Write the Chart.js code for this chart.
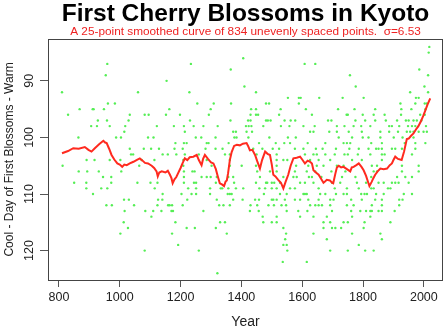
<!DOCTYPE html>
<html>
<head>
<meta charset="utf-8">
<script src="https://cdn.jsdelivr.net/npm/chart.js@4"></script>
<style>
  body { margin: 0; background: #fff; }
</style>
</head>
<body>
<canvas id="c" width="447" height="331"></canvas>
<script>
// observations, grouped by day of first blossom
const rowDays = [84, 85, 86, 87, 88, 89, 90, 91, 92, 93, 94, 95, 96, 97, 98, 99, 100, 101, 102, 103, 104, 105, 106, 107, 108, 109, 110, 111, 112, 113, 114, 115, 116, 117, 118, 119, 120, 122, 124];
const rowYears = [
  [2018],
  [2016],
  [1406],
  [959, 1234, 1608, 1643],
  [1365, 1985],
  [954, 1757, 2014],
  [1154],
  [1410, 1776, 2002],
  [810, 1060, 1229, 1448, 1955, 2014],
  [1553, 1589, 1595, 1656, 1733, 1802, 1974, 1983],
  [961, 984, 1255, 1309, 1366, 1481, 1491, 1589, 1923, 1972, 2003, 2010],
  [868, 911, 914, 948, 1163, 1299, 1432, 1448, 1529, 1612, 1718, 1772, 1840, 1926, 1959, 2005],
  [830, 1033, 1082, 1095, 1152, 1198, 1293, 1430, 1448, 1455, 1524, 1632, 1746, 1750, 1799, 1835, 1871, 1925, 1988, 2003],
  [928, 958, 1029, 1231, 1364, 1422, 1430, 1481, 1487, 1496, 1542, 1562, 1577, 1685, 1696, 1775, 1807, 1840, 1875, 1912, 1941, 1950, 1966, 1977, 1992],
  [906, 925, 967, 1018, 1122, 1178, 1211, 1243, 1275, 1322, 1415, 1424, 1433, 1472, 1530, 1558, 1604, 1641, 1714, 1739, 1769, 1794, 1824, 1886, 1895, 1919, 1948, 1961, 1972, 2007],
  [1015, 1214, 1373, 1382, 1417, 1435, 1626, 1637, 1689, 1714, 1753, 1796, 1857, 1886, 1915, 1944, 1955, 1966, 1983, 1999, 2010],
  [864, 988, 1004, 1093, 1111, 1250, 1268, 1315, 1377, 1384, 1423, 1492, 1553, 1579, 1720, 1764, 1799, 1818, 1857, 1901, 1930, 1966],
  [1183, 1211, 1220, 1286, 1292, 1358, 1458, 1513, 1541, 1560, 1618, 1676, 1736, 1747, 1758, 1827, 1862, 1937, 1972, 2005],
  [1033, 1079, 1103, 1129, 1180, 1207, 1282, 1315, 1338, 1439, 1469, 1503, 1524, 1576, 1604, 1645, 1667, 1711, 1755, 1786, 1818, 1843, 1851, 1862, 1895, 1906, 1928, 1972],
  [1037, 1044, 1141, 1158, 1186, 1214, 1260, 1346, 1362, 1450, 1516, 1609, 1637, 1648, 1676, 1707, 1739, 1750, 1783, 1824, 1862, 1871, 1961],
  [891, 917, 967, 1002, 1072, 1114, 1209, 1286, 1362, 1516, 1538, 1551, 1626, 1654, 1692, 1764, 1796, 1862],
  [812, 1064, 1209, 1302, 1362, 1401, 1448, 1516, 1580, 1620, 1648, 1670, 1714, 1736, 1829, 1846, 1928, 1983],
  [865, 893, 931, 1005, 1211, 1239, 1246, 1452, 1494, 1516, 1576, 1615, 1643, 1696, 1742, 1835, 1846, 1928, 1983],
  [945, 972, 1211, 1269, 1286, 1299, 1319, 1357, 1373, 1461, 1538, 1571, 1582, 1622, 1632, 1663, 1731, 1775, 1827, 1912, 1939, 1961],
  [850, 890, 972, 1058, 1101, 1124, 1211, 1244, 1251, 1316, 1376, 1448, 1481, 1485, 1500, 1508, 1527, 1593, 1609, 1637, 1698, 1725, 1780, 1810, 1851, 1868, 1895, 1906, 1917, 1950],
  [890, 939, 959, 1115, 1225, 1251, 1297, 1332, 1337, 1357, 1382, 1406, 1459, 1478, 1500, 1516, 1560, 1576, 1654, 1707, 1747, 1786, 1827, 1835, 1882, 1890],
  [912, 1141, 1203, 1236, 1251, 1297, 1355, 1362, 1368, 1474, 1527, 1549, 1604, 1609, 1615, 1659, 1676, 1711, 1736, 1747, 1794, 1805, 1813, 1843, 1868, 1934, 1961],
  [1014, 1030, 1126, 1140, 1222, 1319, 1373, 1404, 1445, 1458, 1500, 1505, 1516, 1543, 1576, 1593, 1620, 1654, 1692, 1703, 1761, 1796, 1840, 1862, 1919, 1930],
  [956, 974, 1047, 1124, 1159, 1164, 1172, 1207, 1327, 1341, 1362, 1430, 1452, 1489, 1507, 1532, 1547, 1626, 1643, 1654, 1665, 1692, 1747, 1769, 1829, 1862, 1919],
  [1016, 1084, 1110, 1137, 1170, 1175, 1275, 1428, 1457, 1549, 1587, 1617, 1698, 1761, 1791, 1810, 1824, 1829, 1851, 1862, 1904],
  [1104, 1470, 1516, 1593, 1637, 1681, 1764, 1824],
  [1013, 1183, 1330, 1346, 1472, 1500, 1516, 1670, 1692, 1736, 1750, 1805, 1890],
  [1027, 1220, 1247, 1316, 1538, 1670, 1698, 1709, 1728, 1802],
  [1002, 1172, 1352, 1547, 1637, 1764, 1857],
  [1544, 1681, 1862],
  [1192, 1538, 1549, 1786],
  [1082, 1260, 1551, 1692, 1750, 1807, 1835],
  [1536, 1615],
  [1321]
];

// 25-point smoothed curve
const smoothYears = [810, 830, 847, 865, 885, 897, 907, 918, 932, 946, 952, 957, 965, 973, 982, 992, 1000, 1008, 1015, 1023, 1033, 1045, 1055, 1066, 1075, 1083, 1093, 1105, 1113, 1121, 1125, 1130, 1138, 1150, 1158, 1165, 1170, 1174, 1180, 1186, 1192, 1200, 1207, 1214, 1222, 1230, 1242, 1253, 1260, 1269, 1274, 1280, 1290, 1300, 1308, 1316, 1322, 1329, 1336, 1343, 1348, 1352, 1356, 1362, 1368, 1376, 1385, 1395, 1405, 1417, 1422, 1428, 1436, 1445, 1452, 1461, 1468, 1478, 1486, 1494, 1500, 1505, 1512, 1521, 1530, 1538, 1545, 1554, 1562, 1571, 1582, 1593, 1600, 1609, 1618, 1626, 1632, 1637, 1645, 1654, 1662, 1670, 1675, 1681, 1691, 1698, 1702, 1709, 1714, 1720, 1728, 1736, 1747, 1758, 1763, 1769, 1778, 1786, 1795, 1802, 1810, 1816, 1821, 1828, 1834, 1840, 1848, 1857, 1868, 1879, 1888, 1895, 1900, 1906, 1915, 1927, 1935, 1944, 1950, 1958, 1966, 1974, 1982, 1990, 1998, 2005, 2012, 2021];
const smoothDays = [102.8, 102.4, 101.9, 102.0, 101.7, 102.2, 102.5, 101.9, 101.2, 100.6, 100.9, 101.0, 102.0, 103.1, 103.9, 104.6, 104.8, 105.2, 104.8, 104.9, 104.6, 104.3, 104.0, 103.7, 104.1, 104.5, 104.6, 105.0, 105.4, 106.0, 106.9, 106.2, 106.0, 106.2, 105.9, 106.6, 107.2, 108.1, 107.4, 107.0, 106.3, 105.4, 104.5, 103.7, 104.0, 103.5, 103.4, 103.1, 104.0, 104.9, 103.8, 103.1, 103.8, 104.4, 104.6, 105.6, 106.8, 108.1, 108.3, 108.6, 107.8, 107.6, 106.4, 104.0, 102.6, 101.5, 101.3, 101.4, 101.1, 101.0, 101.5, 102.3, 102.2, 103.1, 104.2, 105.5, 104.0, 102.5, 102.9, 103.1, 104.8, 106.6, 106.9, 107.5, 108.0, 109.0, 107.9, 106.6, 105.0, 103.7, 103.6, 103.4, 103.9, 104.6, 104.1, 104.3, 104.6, 105.8, 106.2, 106.6, 107.3, 108.0, 107.8, 107.5, 107.6, 108.0, 108.1, 106.4, 105.3, 105.0, 105.3, 105.2, 105.6, 106.0, 105.3, 105.2, 104.9, 104.6, 105.2, 105.8, 106.8, 107.8, 108.6, 107.9, 107.2, 106.6, 106.0, 105.5, 105.6, 105.5, 104.9, 104.6, 104.0, 103.4, 103.8, 104.0, 102.5, 100.3, 100.2, 99.7, 99.3, 98.6, 98.0, 97.2, 96.2, 95.2, 94.2, 93.1];

const xTicks = [800, 1000, 1200, 1400, 1600, 1800, 2000];
const yTicks = [90, 100, 110, 120];

const FONT = "'Liberation Sans', Arial, Helvetica, sans-serif";

const obsPoints = [];
rowDays.forEach((d, i) => {
  rowYears[i].forEach(y => obsPoints.push({ x: y, y: d }));
});
const curve = smoothYears.map((y, i) => ({ x: y, y: smoothDays[i] }));

// R style box round the plot region
const plotBox = {
  id: 'plotBox',
  afterDatasetsDraw(chart) {
    const a = chart.chartArea;
    const ctx = chart.ctx;
    ctx.save();
    ctx.strokeStyle = '#444';
    ctx.lineWidth = 1;
    ctx.strokeRect(Math.round(a.left) + 0.5, Math.round(a.top) + 0.5,
      Math.round(a.right - a.left) - 1, Math.round(a.bottom - a.top));
    ctx.restore();
  }
};

new Chart(document.getElementById('c'), {
  type: 'scatter',
  data: {
    datasets: [
      {
        data: curve,
        showLine: true,
        borderColor: '#ff2a1f',
        borderWidth: 2,
        pointRadius: 0,
        tension: 0
      },
      {
        data: obsPoints,
        backgroundColor: '#55ee55',
        borderWidth: 0,
        pointRadius: 1.2
      }
    ]
  },
  plugins: [plotBox],
  options: {
    responsive: false,
    animation: false,
    devicePixelRatio: 1,
    layout: { padding: { left: 0, right: 4, top: 0, bottom: 0 } },
    plugins: {
      legend: { display: false },
      tooltip: { enabled: false },
      title: {
        display: true,
        fullSize: false,
        text: 'First Cherry Blossoms in Kyoto',
        color: '#000',
        font: { family: FONT, size: 24.5, weight: 'bold', lineHeight: 1 },
        padding: { top: 2, bottom: 0 }
      },
      subtitle: {
        display: true,
        fullSize: false,
        text: 'A 25-point smoothed curve of 834 unevenly spaced points.  \u03c3=6.53',
        color: '#ee2222',
        font: { family: FONT, size: 11.8, lineHeight: '11px' },
        padding: { top: 0, bottom: 1.5 }
      }
    },
    scales: {
      x: {
        type: 'linear',
        min: 764,
        max: 2063,
        afterBuildTicks: s => { s.ticks = xTicks.map(v => ({ value: v })); },
        afterFit: s => { s.height = 51; },
        border: { display: false },
        grid: { drawOnChartArea: false, drawTicks: true, tickLength: 7, color: '#555' },
        ticks: { color: '#222', padding: 3, maxRotation: 0, callback: v => String(v), font: { family: FONT, size: 12.5 } },
        title: { display: true, text: 'Year', color: '#222', padding: 0, font: { family: FONT, size: 14, lineHeight: '18px' } }
      },
      y: {
        type: 'linear',
        reverse: true,
        min: 82.6,
        max: 125.2,
        afterBuildTicks: s => { s.ticks = yTicks.map(v => ({ value: v })); },
        afterFit: s => { s.width = 48; },
        border: { display: false },
        grid: { drawOnChartArea: false, drawTicks: true, tickLength: 8, color: '#555' },
        ticks: { color: '#222', padding: 0, minRotation: 90, maxRotation: 90, crossAlign: 'center', callback: v => String(v), font: { family: FONT, size: 12.5 } },
        title: { display: true, text: 'Cool - Day of First Blossoms - Warm', color: '#222', padding: 0, font: { family: FONT, size: 12, lineHeight: '20px' } }
      }
    }
  }
});
</script>
</body>
</html>
